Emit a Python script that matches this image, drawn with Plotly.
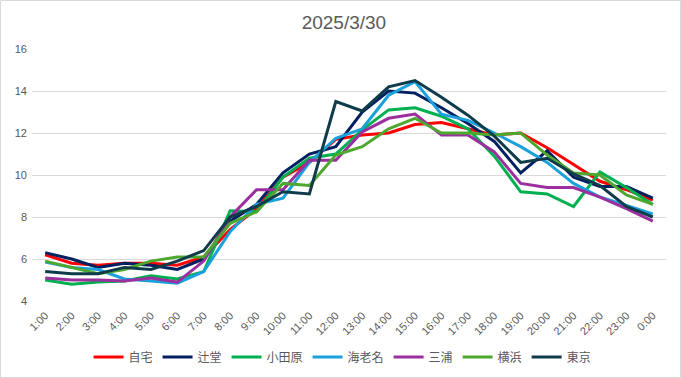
import plotly.graph_objects as go

hours = ["1:00", "2:00", "3:00", "4:00", "5:00", "6:00", "7:00", "8:00", "9:00", "10:00",
         "11:00", "12:00", "13:00", "14:00", "15:00", "16:00", "17:00", "18:00", "19:00",
         "20:00", "21:00", "22:00", "23:00", "0:00"]

jitaku   = [6.2, 5.8, 5.7, 5.8, 5.8, 5.7, 6.1, 7.4, 8.4, 9.9, 10.6, 11.7, 11.9, 12.0, 12.4, 12.5, 12.2, 11.9, 12.0, 11.3, 10.5, 9.7, 9.3, 8.8]
tsujido  = [6.3, 6.0, 5.6, 5.8, 5.7, 5.5, 6.0, 7.8, 8.6, 10.1, 11.0, 11.35, 13.0, 14.0, 13.9, 13.2, 12.45, 11.6, 10.1, 11.15, 9.9, 9.45, 9.45, 8.9]
odawara  = [5.0, 4.8, 4.9, 4.95, 5.2, 5.05, 5.4, 8.3, 8.25, 9.9, 10.8, 11.0, 12.15, 13.1, 13.2, 12.8, 12.2, 10.9, 9.2, 9.1, 8.5, 10.15, 9.4, 8.6]
ebina    = [5.85, 5.6, 5.5, 5.05, 4.95, 4.85, 5.4, 7.3, 8.6, 8.9, 10.6, 11.75, 12.2, 13.8, 14.45, 12.9, 12.6, 12.0, 11.35, 10.6, 9.6, 8.95, 8.55, 8.15]
miura    = [5.1, 5.0, 5.0, 4.95, 5.1, 4.9, 5.9, 8.0, 9.3, 9.3, 10.7, 10.7, 12.05, 12.7, 12.9, 11.9, 11.9, 11.1, 9.6, 9.4, 9.4, 8.95, 8.4, 7.8]
yokohama = [5.9, 5.6, 5.3, 5.5, 5.9, 6.1, 6.1, 7.7, 8.25, 9.6, 9.5, 10.95, 11.35, 12.2, 12.7, 12.0, 12.0, 11.9, 12.0, 10.95, 10.1, 10.0, 9.05, 8.6]
tokyo    = [5.4, 5.3, 5.3, 5.6, 5.5, 5.9, 6.4, 8.0, 8.5, 9.2, 9.1, 13.5, 13.05, 14.2, 14.5, 13.7, 12.85, 11.85, 10.6, 10.8, 10.05, 9.5, 8.5, 8.0]

series_names = ["自宅", "辻堂", "小田原", "海老名", "三浦", "横浜", "東京"]
series_values = [jitaku, tsujido, odawara, ebina, miura, yokohama, tokyo]
colors = ["#FF0000", "#002060", "#00B050", "#1AA1DC", "#9B2F9E", "#4EA72E", "#0F3B4B"]

y_ticks = [4, 6, 8, 10, 12, 14, 16]

font_family = "Liberation Sans, Noto Sans CJK JP, sans-serif"

fig = go.Figure()
for name, vals, col in zip(series_names, series_values, colors):
    fig.add_trace(go.Scatter(x=hours, y=vals, mode="lines", name=name,
                             line=dict(color=col, width=3)))

fig.update_layout(
    width=681, height=378,
    margin=dict(l=32, r=15, t=49, b=77, autoexpand=False),
    paper_bgcolor="white", plot_bgcolor="white",
    font=dict(family=font_family, color="#595959", size=11),
    title=dict(text="2025/3/30", x=0.505, xanchor="center", y=1 - 22 / 378, yanchor="middle",
               font=dict(size=19, color="#595959", family=font_family)),
    showlegend=True,
    legend=dict(orientation="h", xref="container", x=0.503, xanchor="center",
                yref="container", y=1 - 357 / 378, yanchor="middle",
                font=dict(size=12, color="#595959"), itemwidth=30,
                tracegroupgap=0),
    xaxis=dict(type="category", tickangle=-45, showgrid=False, zeroline=False,
               showline=False, ticks="", range=[-0.5, 23.5], automargin=False,
               ticklabelstandoff=5,
               tickfont=dict(size=11, color="#595959")),
    yaxis=dict(range=[4, 16], tickvals=y_ticks, showgrid=True, gridcolor="#D9D9D9",
               gridwidth=1, zeroline=False, showline=False, ticks="", automargin=False,
               ticklabelstandoff=4,
               tickfont=dict(size=11, color="#595959")),
)

# chart-area border
fig.add_shape(type="rect", xref="paper", yref="paper",
              x0=(0.5 - 32) / 634, x1=(680.5 - 32) / 634,
              y0=(301 - 377.5) / 252, y1=(301 - 0.5) / 252,
              line=dict(color="#D9D9D9", width=1), fillcolor="rgba(0,0,0,0)", layer="below")

fig.write_html("out.html", config={"displayModeBar": False},
               post_script="document.body.style.margin='0';")
